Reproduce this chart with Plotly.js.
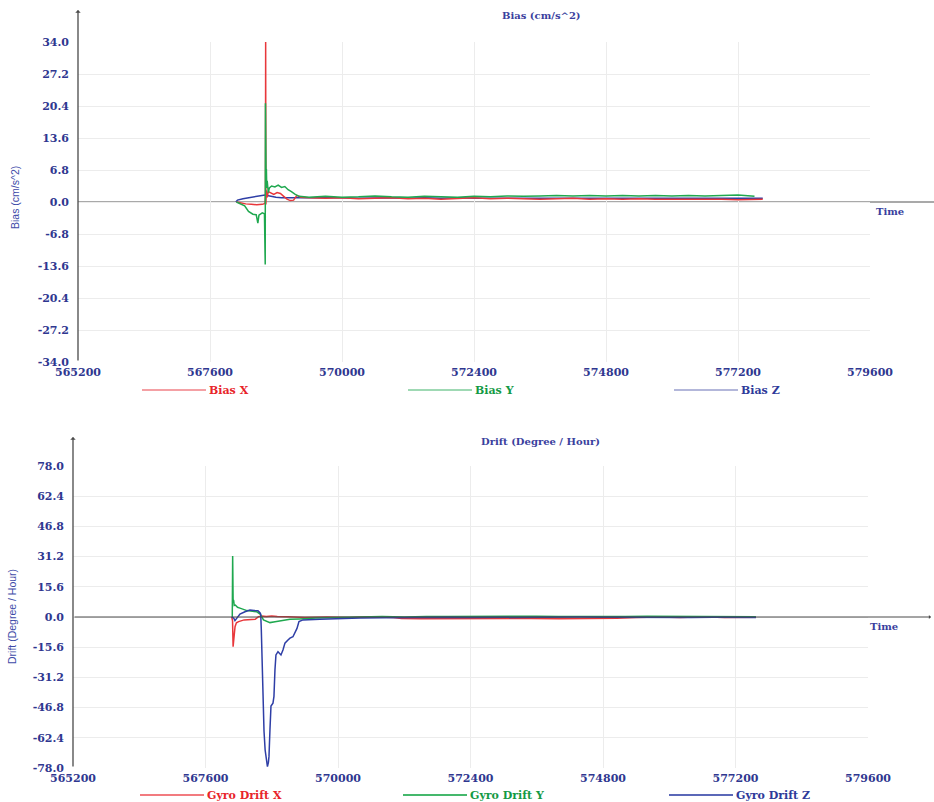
<!DOCTYPE html>
<html>
<head>
<meta charset="utf-8">
<script src="https://cdn.plot.ly/plotly-3.0.1.min.js"></script>
<style>
  html, body { margin: 0; padding: 0; background: #ffffff; }
  #chart { width: 934px; height: 802px; }
</style>
</head>
<body>
<div id="chart"></div>
<script>
// ---- Accelerometer bias (cm/s^2) ----
const biasXTime = [568080, 568150, 568250, 568350, 568450, 568550, 568600, 568608, 568612, 568616, 568625, 568640, 568660, 568700, 568760, 568820, 568880, 568940, 569000, 569060, 569120, 569180, 569250, 569400, 569700, 570000, 570300, 570600, 570900, 571200, 571500, 571800, 572100, 572400, 572700, 573000, 573300, 573600, 573900, 574200, 574500, 574800, 575100, 575400, 575700, 576000, 576300, 576600, 576900, 577200, 577500, 577650];
const biasX = [0.0, -0.2, -0.4, -0.5, -0.6, -0.5, -0.3, 1.5, 34.0, -0.5, 2.5, 1.0, 2.2, 2.0, 1.6, 2.0, 1.8, 1.2, 0.6, 0.3, 0.4, 1.4, 1.0, 0.9, 0.8, 0.9, 0.7, 0.8, 0.9, 0.7, 0.8, 0.6, 0.8, 0.9, 0.7, 0.8, 0.7, 0.6, 0.7, 0.8, 0.6, 0.7, 0.6, 0.7, 0.6, 0.6, 0.7, 0.6, 0.6, 0.5, 0.6, 0.6];

const biasYTime = [568080, 568150, 568230, 568300, 568380, 568440, 568470, 568490, 568550, 568590, 568604, 568608, 568612, 568616, 568620, 568625, 568632, 568640, 568660, 568680, 568720, 568780, 568840, 568900, 568960, 569020, 569080, 569150, 569220, 569300, 569400, 569700, 570000, 570300, 570600, 570900, 571200, 571500, 571800, 572100, 572400, 572700, 573000, 573300, 573600, 573900, 574200, 574500, 574800, 575100, 575400, 575700, 576000, 576300, 576600, 576900, 577200, 577500, 577650];
const biasY = [0.0, -0.3, -0.8, -2.0, -2.6, -2.7, -4.5, -2.8, -2.3, -2.5, -13.3, 21.0, 8.0, 11.0, 5.0, 7.0, 3.0, 4.5, 2.0, 3.0, 3.4, 3.2, 3.6, 3.1, 3.3, 2.6, 2.2, 1.6, 1.2, 1.1, 1.0, 1.2, 1.0, 1.1, 1.3, 1.1, 1.0, 1.2, 1.1, 1.0, 1.2, 1.1, 1.3, 1.2, 1.3, 1.4, 1.3, 1.4, 1.3, 1.4, 1.3, 1.4, 1.3, 1.4, 1.3, 1.4, 1.5, 1.2];

const biasZTime = [568070, 568100, 568200, 568300, 568400, 568500, 568600, 568640, 568700, 568800, 568900, 569000, 569200, 569400, 569700, 570000, 570300, 570600, 570900, 571200, 571500, 571800, 572100, 572400, 572700, 573000, 573300, 573600, 573900, 574200, 574500, 574800, 575100, 575400, 575700, 576000, 576300, 576600, 576900, 577200, 577500, 577650];
const biasZ = [0.0, 0.4, 0.7, 0.9, 1.1, 1.3, 1.5, 1.4, 1.2, 1.0, 0.9, 0.9, 1.0, 0.9, 1.0, 0.9, 0.8, 0.9, 0.9, 0.8, 0.9, 0.8, 0.9, 0.8, 0.8, 0.9, 0.8, 0.8, 0.9, 0.8, 0.8, 0.8, 0.9, 0.8, 0.8, 0.8, 0.8, 0.9, 0.8, 0.8, 0.8, 0.8];

// ---- Gyro drift (degree / hour) ----
const driftXTime = [568075, 568090, 568100, 568110, 568120, 568135, 568160, 568200, 568300, 568400, 568500, 568560, 568620, 568700, 568800, 568900, 569000, 569100, 569400, 569800, 570200, 570600, 571000, 571150, 571500, 572000, 572500, 573000, 573500, 574000, 574500, 575050, 575400, 575800, 576200, 576600, 577000, 577300, 577570];
const driftX = [0.0, -2.0, -15.3, -13.0, -8.0, -5.0, -3.0, -2.4, -1.5, -1.4, -1.2, 0.2, 0.5, 0.3, 0.5, 0.2, 0.3, 0.1, -0.2, 0.0, -0.3, 0.1, -0.2, -0.8, -0.9, -0.8, -0.9, -0.8, -0.8, -0.9, -0.8, -0.7, -0.2, 0.0, -0.3, 0.1, -0.2, 0.0, -0.1];

const driftYTime = [568085, 568092, 568100, 568110, 568120, 568140, 568180, 568224, 568350, 568530, 568590, 568650, 568768, 568860, 568967, 569130, 569300, 569600, 570000, 570400, 570800, 571200, 571600, 572000, 572400, 572800, 573200, 573600, 574000, 574400, 574800, 575200, 575600, 576000, 576400, 576800, 577200, 577570];
const driftY = [0.0, 31.5, 9.0, 8.5, 6.0, 6.2, 5.0, 4.6, 3.3, 2.7, 1.5, -1.5, -2.9, -2.5, -1.9, -1.2, -1.0, -0.5, -0.3, 0.1, 0.2, 0.0, 0.3, 0.2, 0.3, 0.2, 0.3, 0.4, 0.3, 0.2, 0.3, 0.2, 0.4, 0.3, 0.2, 0.3, 0.2, 0.1];

const driftZTime = [568075, 568110, 568134, 568170, 568224, 568315, 568405, 568480, 568550, 568587, 568600, 568610, 568630, 568645, 568660, 568680, 568700, 568722, 568740, 568750, 568768, 568786, 568822, 568840, 568858, 568876, 568913, 568967, 569003, 569039, 569094, 569130, 569184, 569257, 569293, 569365, 569673, 570035, 570400, 570800, 571200, 571600, 572000, 572400, 572800, 573200, 573600, 574000, 574400, 574800, 575200, 575600, 576000, 576400, 576800, 577200, 577570];
const driftZ = [0.0, -0.5, -1.9, -0.5, 1.5, 2.7, 3.6, 3.4, 3.3, 2.2, 1.5, -5.7, -30.8, -47.0, -59.0, -68.7, -74.0, -77.3, -75.0, -72.0, -58.0, -46.0, -44.5, -41.0, -27.4, -19.6, -17.9, -19.6, -17.0, -13.5, -11.9, -10.9, -10.2, -5.9, -2.4, -1.5, -1.2, -0.8, -0.5, -0.4, -0.2, -0.3, -0.1, -0.3, -0.2, -0.1, -0.2, -0.1, 0.0, -0.1, -0.2, 0.0, -0.1, -0.2, -0.1, -0.2, -0.3];

// ---- Tick labels ----
const timeTicks = [565200, 567600, 570000, 572400, 574800, 577200, 579600];
const timeTickText = ['565200', '567600', '570000', '572400', '574800', '577200', '579600'];
const biasTicks = [-34, -27.2, -20.4, -13.6, -6.8, 0, 6.8, 13.6, 20.4, 27.2, 34];
const biasTickText = ['-34.0', '-27.2', '-20.4', '-13.6', '-6.8', '0.0', '6.8', '13.6', '20.4', '27.2', '34.0'];
const driftTicks = [-78, -62.4, -46.8, -31.2, -15.6, 0, 15.6, 31.2, 46.8, 62.4, 78];
const driftTickText = ['-78.0', '-62.4', '-46.8', '-31.2', '-15.6', '0.0', '15.6', '31.2', '46.8', '62.4', '78.0'];

// ---- Series names and colours ----
const biasNames = ['Bias X', 'Bias Y', 'Bias Z'];
const driftNames = ['Gyro Drift X', 'Gyro Drift Y', 'Gyro Drift Z'];
const lineColors = ['#e8373b', '#1fa84f', '#2e3ea6'];
const textColors = ['#e8242a', '#149a45', '#2e3a9a'];
const biasKeyColors = ['#f4a0a4', '#9fd9b4', '#b3b7da'];
const driftKeyColors = ['#f27b7f', '#45b86c', '#5b68b8'];

const W = 934, H = 802;
const px = x => x / W;
const py = y => 1 - y / H;

const tickFont = { family: 'DejaVu Serif, serif', size: 11, color: '#2f3790', weight: 'bold' };
const gridColor = '#ececec';

function lineTrace(x, y, color, xa, ya) {
  return { x: x, y: y, type: 'scatter', mode: 'lines', xaxis: xa, yaxis: ya,
           line: { color: color, width: 1.5 }, showlegend: false, hoverinfo: 'skip' };
}

const data = [
  lineTrace(biasZTime, biasZ, lineColors[2], 'x', 'y'),
  lineTrace(biasXTime, biasX, lineColors[0], 'x', 'y'),
  lineTrace(biasYTime, biasY, lineColors[1], 'x', 'y'),
  lineTrace(driftXTime, driftX, lineColors[0], 'x2', 'y2'),
  lineTrace(driftYTime, driftY, lineColors[1], 'x2', 'y2'),
  lineTrace(driftZTime, driftZ, lineColors[2], 'x2', 'y2')
];

function xAxis(domain, anchor) {
  return { domain: domain, anchor: anchor, range: [565200, 579600], tickvals: timeTicks, ticktext: timeTickText,
           showgrid: true, gridcolor: gridColor, gridwidth: 1, zeroline: false, showline: false,
           ticks: '', ticklabelstandoff: 2, tickfont: tickFont, fixedrange: true };
}
function yAxis(domain, anchor, lim, vals, text) {
  return { domain: domain, anchor: anchor, range: [-lim, lim], tickvals: vals, ticktext: text,
           showgrid: true, gridcolor: gridColor, gridwidth: 1, zeroline: false, showline: false,
           ticks: '', ticklabelstandoff: 8, tickfont: tickFont, fixedrange: true };
}

const annotations = [];
const shapes = [];

// text label centred on a pixel position
function label(x, y, text, font, extra) {
  return Object.assign({ xref: 'paper', yref: 'paper', x: px(x), y: py(y), xanchor: 'center', yanchor: 'middle',
    text: text, showarrow: false, font: font }, extra || {});
}

const titleFont = { family: 'DejaVu Serif, serif', size: 10, color: '#3a3f9e', weight: 'bold' };
const axisTitleFont = { family: 'Liberation Sans Narrow, Liberation Sans, sans-serif', size: 10.5, color: '#3d4aa8' };

// chart titles
annotations.push(label(541, 15, 'Bias (cm/s^2)', titleFont));
annotations.push(label(540, 441, 'Drift (Degree / Hour)', titleFont));

// vertical axis titles
annotations.push(label(15, 198, 'Bias (cm/s^2)', axisTitleFont, { textangle: -90 }));
annotations.push(label(12, 617, 'Drift (Degree / Hour)', axisTitleFont, { textangle: -90 }));

// "Time" labels beside the horizontal axes
annotations.push(label(890, 211, 'Time', titleFont));
annotations.push(label(884, 626, 'Time', titleFont));

// vertical axis lines with arrow tips
annotations.push({ xref: 'paper', yref: 'paper', x: px(78), y: py(10), ax: 0, ay: 352, text: '', showarrow: true,
  arrowhead: 1, arrowsize: 0.7, arrowwidth: 1.3, arrowcolor: '#4a4a4a' });
annotations.push({ xref: 'paper', yref: 'paper', x: px(73), y: py(437), ax: 0, ay: 331, text: '', showarrow: true,
  arrowhead: 1, arrowsize: 0.7, arrowwidth: 1.3, arrowcolor: '#4a4a4a' });

// horizontal zero lines
shapes.push({ type: 'line', xref: 'paper', yref: 'y', x0: px(78), x1: 1, y0: 0, y1: 0,
  line: { color: '#a9a9a9', width: 2 }, layer: 'below' });
annotations.push({ xref: 'paper', yref: 'y2', x: px(931), y: 0, ax: -(931 - 73), ay: 0, text: '', showarrow: true,
  arrowhead: 1, arrowsize: 0.7, arrowwidth: 1, arrowcolor: '#4a4a4a' });

// series keys below each chart
function addKey(names, keyColors, yPix, starts) {
  names.forEach((name, i) => {
    const x0 = starts[i];
    shapes.push({ type: 'line', xref: 'paper', yref: 'paper', x0: px(x0), x1: px(x0 + 64), y0: py(yPix), y1: py(yPix),
      line: { color: keyColors[i], width: 2 } });
    annotations.push(label(x0 + 65, yPix, name,
      { family: 'DejaVu Serif, serif', size: 11, color: textColors[i], weight: 'bold' }, { xanchor: 'left' }));
  });
}
addKey(biasNames, biasKeyColors, 390, [142, 408, 674]);
addKey(driftNames, driftKeyColors, 795, [140, 403, 669]);

const layout = {
  width: W, height: H,
  margin: { l: 0, r: 0, t: 0, b: 0 },
  paper_bgcolor: '#ffffff', plot_bgcolor: '#ffffff',
  showlegend: false,
  xaxis: xAxis([px(78), px(870)], 'y'),
  yaxis: yAxis([py(362), py(42)], 'x', 34, biasTicks, biasTickText),
  xaxis2: xAxis([px(73), px(868)], 'y2'),
  yaxis2: yAxis([py(768), py(466)], 'x2', 78, driftTicks, driftTickText),
  shapes: shapes,
  annotations: annotations
};

Plotly.newPlot('chart', data, layout, { displayModeBar: false, staticPlot: true });
</script>
</body>
</html>
